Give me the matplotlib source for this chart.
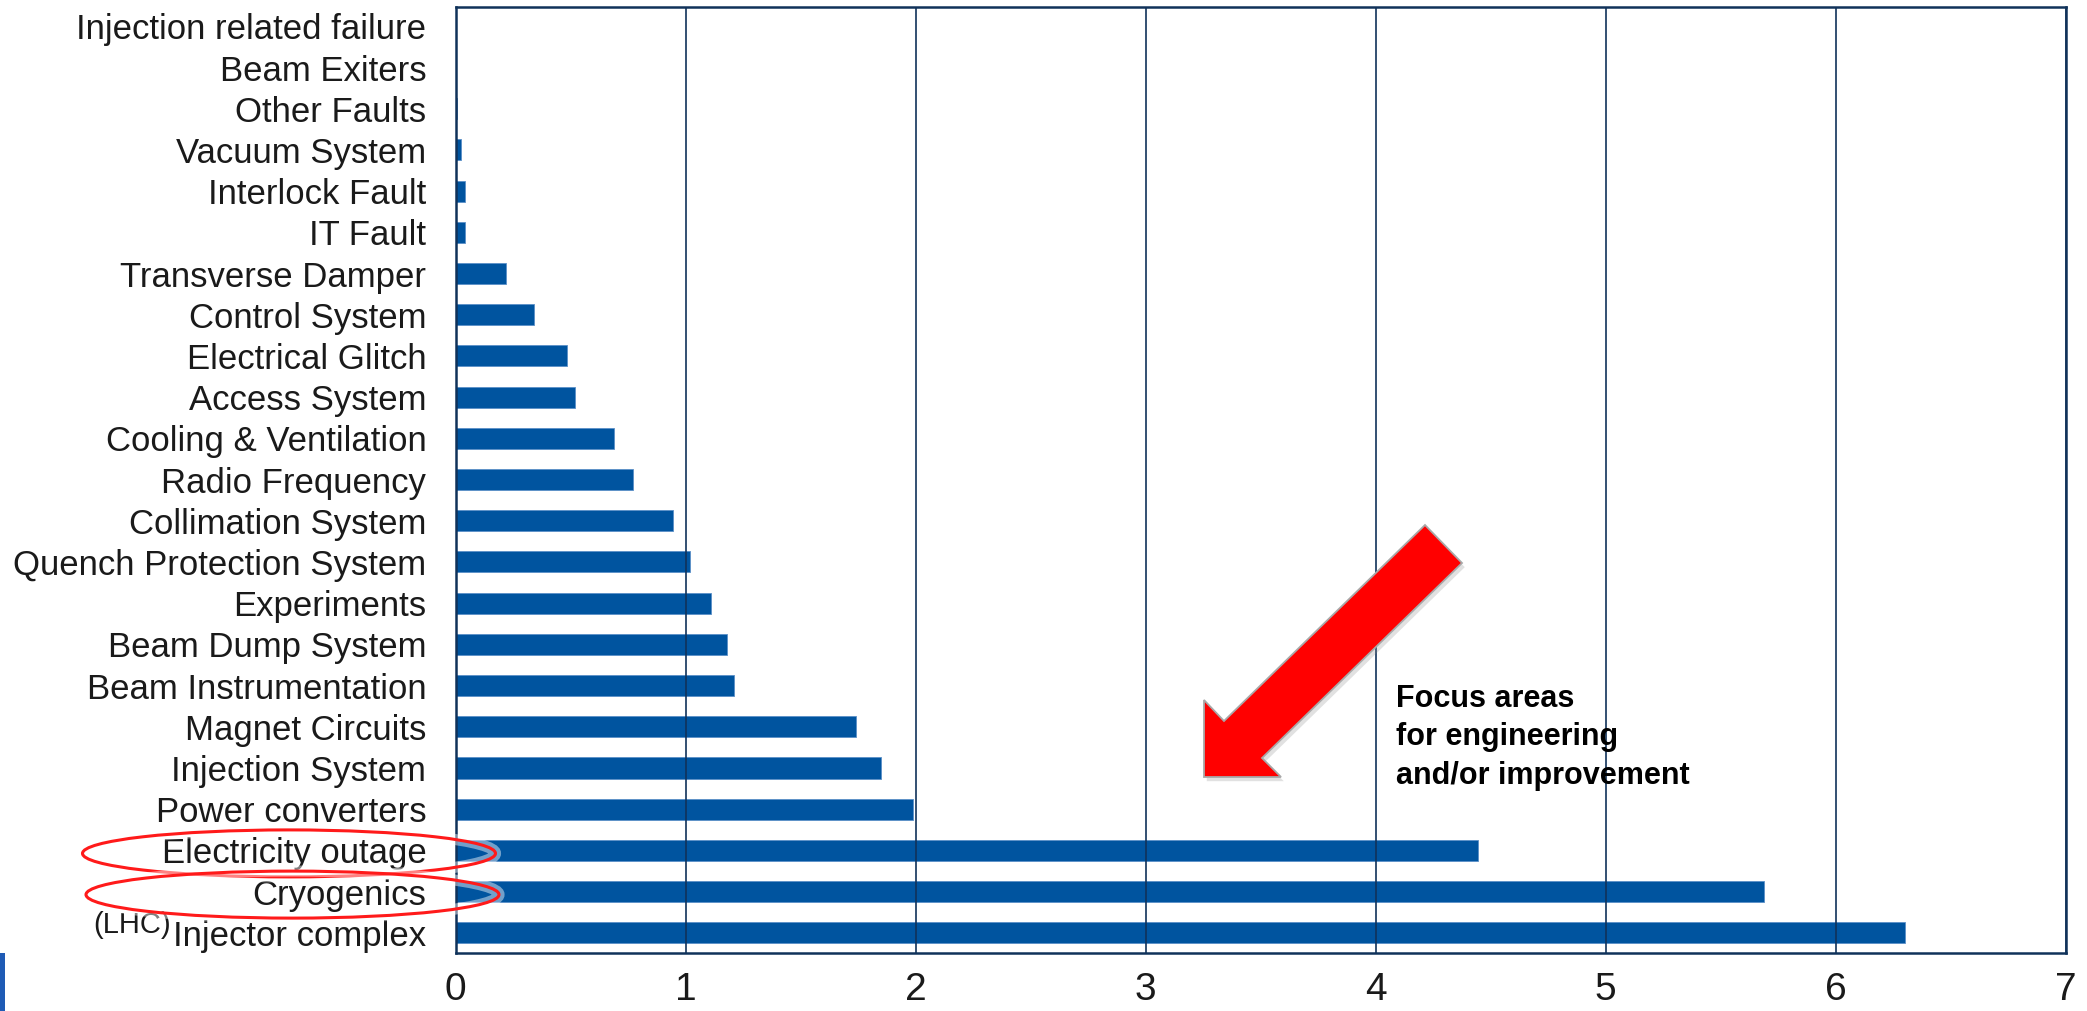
import numpy as np
import matplotlib
matplotlib.use("Agg")
import matplotlib.pyplot as plt
from matplotlib.patches import Ellipse, Polygon, Rectangle
import matplotlib.patheffects as pe

plt.rcParams['font.family'] = ['Liberation Sans', 'DejaVu Sans']

# ---Data (bottom to top)
systems = [
    "Injector complex", "Cryogenics", "Electricity outage", "Power converters",
    "Injection System", "Magnet Circuits", "Beam Instrumentation", "Beam Dump System",
    "Experiments", "Quench Protection System", "Collimation System", "Radio Frequency",
    "Cooling & Ventilation", "Access System", "Electrical Glitch", "Control System",
    "Transverse Damper", "IT Fault", "Interlock Fault", "Vacuum System",
    "Other Faults", "Beam Exiters", "Injection related failure",
]
downtime = [
    6.30, 5.69, 4.445, 1.99,
    1.85, 1.74, 1.21, 1.18,
    1.11, 1.02, 0.945, 0.77,
    0.69, 0.52, 0.485, 0.34,
    0.22, 0.04, 0.04, 0.026,
    0.006, 0.0, 0.0,
]
x_ticks = [0, 1, 2, 3, 4, 5, 6, 7]
circled = ["Electricity outage", "Cryogenics"]
note_lines = ["Focus areas", "for engineering", "and/or improvement"]

W, H = 2087, 1011
bar_color = '#00549f'
line_color = '#10325a'

fig = plt.figure(figsize=(W / 100, H / 100), dpi=100)
ax = fig.add_axes([455.5 / W, 1 - 953 / H, (2065.5 - 455.5) / W, (953 - 7) / H])

y_pos = np.arange(len(systems))
ax.barh(y_pos, downtime, height=0.51, color=bar_color,
        edgecolor='#5b8fc8', linewidth=0.6, zorder=1)

ax.set_xlim(0, 7)
ax.set_ylim(-0.49, len(systems) - 1 + 0.47)
ax.set_xticks(x_ticks)
ax.set_xticklabels([str(t) for t in x_ticks])
ax.set_yticks(y_pos)
ax.set_yticklabels(systems)
ax.tick_params(axis='x', length=0, pad=14, labelsize=28, labelcolor='#1a1a1a')
ax.tick_params(axis='y', length=0, pad=21, labelsize=25, labelcolor='#1a1a1a')

# ---Grid lines on top of the bars
ax.set_axisbelow(False)
ax.xaxis.grid(True, color=line_color, linewidth=1.2)
ax.yaxis.grid(False)
for sp in ax.spines.values():
    sp.set_color(line_color)
    sp.set_linewidth(1.8)

# ---"(LHC)" prefix in front of the first label
fig.canvas.draw()
renderer = fig.canvas.get_renderer()
lbl = ax.get_yticklabels()[0]
bb = lbl.get_window_extent(renderer)
fig.text((bb.x0 - 2) / W, 1 - 933 / H, "(LHC)", fontsize=21, color='#1a1a1a',
         ha='right', va='baseline')

# ---Red ellipses around the circled labels
for name in circled:
    i = systems.index(name)
    yc = ax.transData.transform((0, i))[1]
    e = Ellipse((289 / W + 3.5 / W * (i == 1), (yc - 3) / H), 413 / W, 47 / H,
                transform=fig.transFigure, fill=False, edgecolor='#ff1a1a',
                linewidth=2.2, zorder=5)
    e.set_path_effects([pe.Stroke(linewidth=8, foreground='white', alpha=0.45),
                        pe.Normal()])
    fig.add_artist(e)

# ---Red block arrow
arrow_px = [(1204, 777), (1204, 700), (1224, 721), (1425, 525),
            (1462, 563), (1262, 758), (1281, 777)]
arrow = Polygon([(x / W, 1 - y / H) for x, y in arrow_px], closed=True,
                transform=fig.transFigure, facecolor='#ff0000',
                edgecolor='#a8a8a8', linewidth=1.3, zorder=6)
arrow.set_path_effects([pe.SimplePatchShadow(offset=(2, -3), shadow_rgbFace='#888888',
                                             alpha=0.25), pe.Normal()])
fig.add_artist(arrow)

# ---Note text
for k, line in enumerate(note_lines):
    fig.text(1395.5 / W, 1 - (707 + 38.5 * k) / H, line, fontsize=22,
             fontweight='bold', color='black', ha='left', va='baseline')

# ---Small blue mark at bottom left
fig.add_artist(Rectangle((0, 0), 4.5 / W, 58 / H, transform=fig.transFigure,
                         facecolor='#1f5bb5', edgecolor='none'))

fig.savefig("out.png", dpi=100)
